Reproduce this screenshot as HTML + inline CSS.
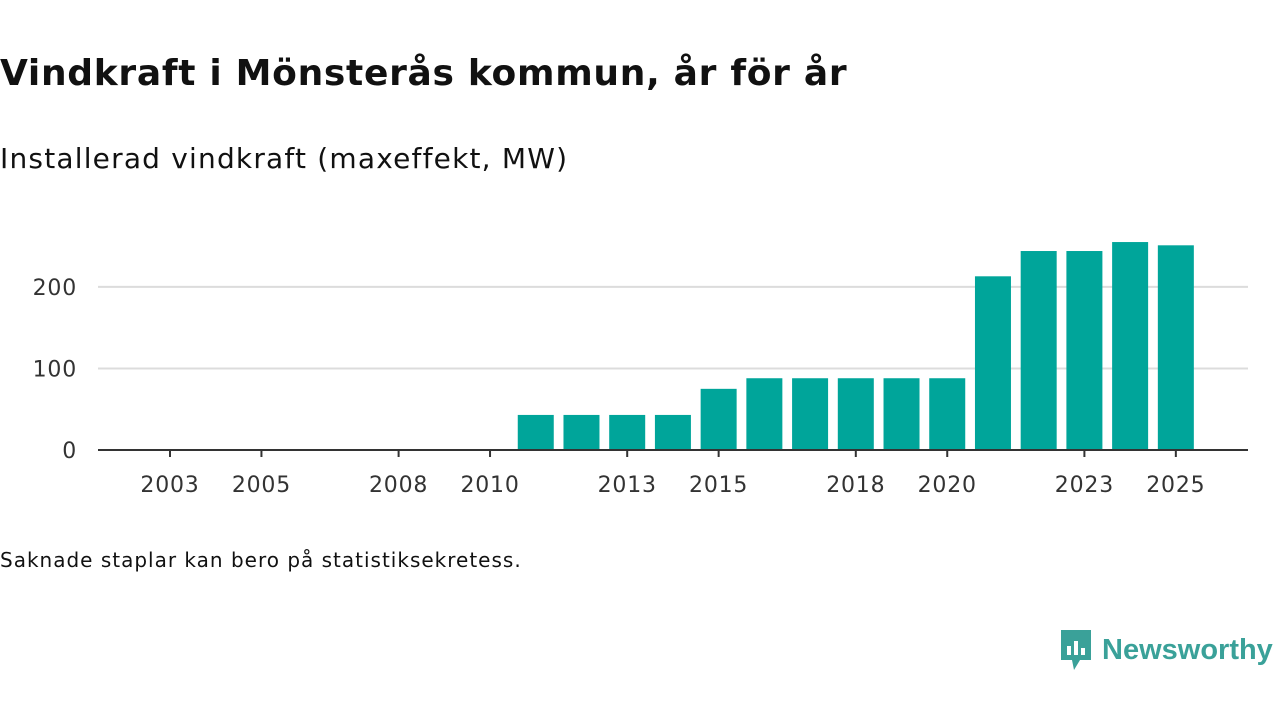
<!DOCTYPE html>
<html><head><meta charset="utf-8">
<style>
body{margin:0;width:1280px;height:720px;background:#fff;font-family:"DejaVu Sans","Liberation Sans",sans-serif;color:#111;overflow:hidden;position:relative}
#title{position:absolute;left:0;top:53px;font-size:36px;font-weight:bold;margin:0;letter-spacing:0.7px;white-space:nowrap}
#sub{position:absolute;left:0;top:142px;font-size:28px;letter-spacing:1.2px;white-space:nowrap}
#note{position:absolute;left:0;top:548px;font-size:20px;letter-spacing:1px;white-space:nowrap}
#logo{position:absolute;left:1058px;top:628px;display:flex;align-items:center;font-family:"Liberation Sans",sans-serif}
#logo span{font-size:29px;color:#3aa199;font-weight:bold;margin-left:8px}
</style></head><body>
<h1 id="title">Vindkraft i Mönsterås kommun, år för år</h1>
<div id="sub">Installerad vindkraft (maxeffekt, MW)</div>
<svg id="chart" width="1280" height="720" style="position:absolute;left:0;top:0"></svg>
<div id="note">Saknade staplar kan bero på statistiksekretess.</div>
<div id="logo">
<svg width="36" height="44" viewBox="0 0 36 44"><path d="M3 2h30v30H22l-6 10-2-10H3z" fill="#3aa199"/><rect x="9" y="18" width="4" height="9" fill="#fff"/><rect x="16" y="13" width="4" height="14" fill="#fff"/><rect x="23" y="20" width="4" height="7" fill="#fff"/></svg>
<span>Newsworthy</span></div>
<script>
const years=[2011,2012,2013,2014,2015,2016,2017,2018,2019,2020,2021,2022,2023,2024,2025];
const values=[43,43,43,43,75,88,88,88,88,88,213,244,244,255,251];
const xTicks=[2003,2005,2008,2010,2013,2015,2018,2020,2023,2025];
const yTicks=[0,100,200];
const svg=document.getElementById('chart');
const NS='http://www.w3.org/2000/svg';
const x=y=>170+(y-2003)*45.72;
const yS=v=>450-v*0.8155;
function mk(t,a){const e=document.createElementNS(NS,t);for(const k in a)e.setAttribute(k,a[k]);svg.appendChild(e);return e;}
yTicks.forEach(v=>{
 if(v>0){const g=mk('line',{x1:98,x2:1248,y1:yS(v),y2:yS(v),stroke:'#dcdcdc','stroke-width':2});
 
 }
 const t=mk('text',{x:77,y:yS(v)+8,'text-anchor':'end','font-size':22,'letter-spacing':0.8,fill:'#333','font-family':'DejaVu Sans, sans-serif'});t.textContent=v;
 
 
});
years.forEach((yr,i)=>{
 const r=mk('rect',{x:x(yr)-18,y:yS(values[i]),width:36,height:450-yS(values[i]),fill:'#00a59a'});
 
 
});
const ax=mk('line',{x1:98,x2:1248,y1:450,y2:450,stroke:'#333','stroke-width':2});


xTicks.forEach(yr=>{
 const tk=mk('line',{x1:x(yr),x2:x(yr),y1:450,y2:457,stroke:'#333','stroke-width':2});
 
 
 const t=mk('text',{x:x(yr),y:492,'text-anchor':'middle','font-size':22,'letter-spacing':0.8,fill:'#333','font-family':'DejaVu Sans, sans-serif'});t.textContent=yr;
 
 
});
</script>
</body></html>
